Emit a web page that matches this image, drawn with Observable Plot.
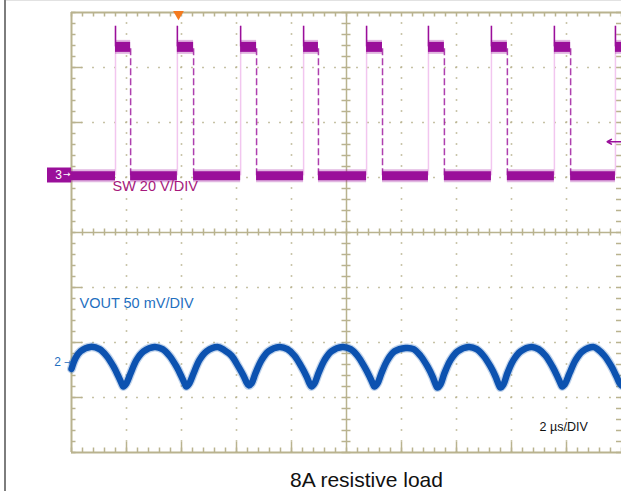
<!DOCTYPE html>
<html><head><meta charset="utf-8">
<script src="https://cdn.jsdelivr.net/npm/d3@7"></script>
<script src="https://cdn.jsdelivr.net/npm/@observablehq/plot@0.6"></script>
<style>
html,body{margin:0;padding:0;background:#fff;}
#wrap{position:relative;width:621px;height:491px;overflow:hidden;}
#wrap svg{position:absolute;left:0;top:0;}
#lb{position:absolute;left:4px;top:0;width:2px;height:491px;background:#7d7d7d;}
#tb{position:absolute;left:5px;top:0;width:616px;height:1px;background:#e2e2e2;}
</style></head><body><div id="wrap"></div>
<script>
// ---- data ----
// time axis: 2 µs/div, 10 divisions
const timePerDiv = 2;
const swVoltsPerDiv = 20;
const voutMilliVoltsPerDiv = 50;
const swOffsetDiv = 1;        // channel 3 ground marker
const voutOffsetDiv = -2.36;  // channel 2 marker

// SW node (V): rising / falling edge times (µs)
const swRise = [1.6, 3.85, 6.15, 8.44, 10.73, 12.98, 15.27, 17.56, 19.78];
const swFall = [2.15, 4.44, 6.73, 8.98, 11.31, 13.56, 15.85, 18.15];
const swLow = 0.6;
const swHigh = 47.5;
const swSpike = 55;
const trigTime = 3.89;
const trigLevel = 13;

// VOUT ripple (mV relative to marker)
const voutT = [0,0.15,0.33,0.69,
1.02,1.27,1.53,1.71,1.82,1.89,2.0,2.15,2.36,2.62,3.02,
3.31,3.56,3.82,4.0,4.11,4.18,4.29,4.44,4.65,4.91,5.31,
5.56,5.82,6.07,6.25,6.36,6.44,6.55,6.69,6.91,7.16,7.56,
7.85,8.11,8.36,8.55,8.65,8.73,8.84,8.98,9.2,9.45,9.85,
10.15,10.4,10.65,10.84,10.95,11.02,11.13,11.27,11.49,11.75,12.15,
12.44,12.69,12.95,13.13,13.24,13.31,13.42,13.56,13.78,14.04,14.44,
14.73,14.98,15.24,15.42,15.53,15.6,15.71,15.85,16.07,16.33,16.73,
16.98,17.24,17.49,17.67,17.78,17.85,17.96,18.11,18.33,18.58,18.98,
19.13,19.38,19.64,19.82,19.93,20];
const voutMV = [-6,4,10,14,
12,6,-4,-13,-19,-22,-19,-10,2,10,14,
12,6,-4,-13,-19,-22,-19,-10,2,10,14,
11,6,-4,-12,-18,-21,-19,-10,2,10,14,
12,6,-4,-13,-19,-22,-19,-10,2,10,14,
12,6,-4,-13,-19,-22,-19,-10,2,10,13,
12,6,-4,-13,-20,-23,-20,-10,2,10,14,
12,6,-4,-13,-20,-23,-20,-10,2,10,14,
12,6,-4,-13,-19,-22,-19,-10,2,10,14,
12,6,-4,-13,-19,-21];

// grid tick positions
const xMinor = d3.range(0, 20.0001, 0.4);
const yMinor = d3.range(-4, 4.0001, 0.2);
const xMajor = [2, 4, 6, 8, 12, 14, 16, 18];
const yMajor = [-3, -2, -1, 1, 2, 3];

const captionText = "8A resistive load";

// ---- build ----
const GRID = "#b9b38f";
const SW = "#9a0f9a";
const SWTXT = "#a6187c";
const VO = "#0c52b0";
const VOTXT = "#1f6fc0";

const swY = v => swOffsetDiv + v / swVoltsPerDiv;
const voY = mv => voutOffsetDiv + mv / voutMilliVoltsPerDiv;

const swLowSegs = [], swHighSegs = [];
let prev = 0;
swRise.forEach((r, i) => {
  swLowSegs.push({x1: prev, x2: r});
  const f = i < swFall.length ? swFall[i] : 20;
  swHighSegs.push({x1: r, x2: f});
  prev = f;
});
const vout = voutT.map((t, i) => ({t, y: voY(voutMV[i])}));

const sw = 1.5;
const chart = Plot.plot({
  width: 621, height: 491,
  marginLeft: 71, marginRight: 0, marginTop: 12, marginBottom: 39,
  x: {domain: [0, 10 * timePerDiv], axis: null},
  y: {domain: [-4, 4], axis: null},
  style: {fontFamily: "Liberation Sans, Arial, sans-serif", background: "transparent", overflow: "visible"},
  marks: [
    // dotted graticule
    Plot.ruleX(xMajor, {stroke: GRID, strokeWidth: 1.6, strokeDasharray: "1.6,9.4", strokeDashoffset: 0.8}),
    Plot.ruleY(yMajor, {stroke: GRID, strokeWidth: 1.6, strokeDasharray: "1.6,9.4", strokeDashoffset: 0.8}),
    // center cross
    Plot.ruleX([10], {stroke: GRID, strokeWidth: sw}),
    Plot.ruleY([0], {stroke: GRID, strokeWidth: sw}),
    Plot.ruleX(xMinor, {x: d => d, y1: 0, y2: 0, insetTop: -3.5, insetBottom: -3.5, stroke: GRID, strokeWidth: sw}),
    Plot.ruleY(yMinor, {y: d => d, x1: 10, x2: 10, insetLeft: -4.5, insetRight: -4.5, stroke: GRID, strokeWidth: sw}),
    // border
    Plot.ruleX([0], {stroke: GRID, strokeWidth: 2}),
    Plot.ruleY([4], {stroke: GRID, strokeWidth: 2}),
    Plot.ruleY([-4], {stroke: GRID, strokeWidth: 2}),
    Plot.ruleX(xMinor, {x: d => d, y1: 4, y2: 4, insetBottom: -4.5, stroke: GRID, strokeWidth: sw}),
    Plot.ruleX(xMinor, {x: d => d, y1: -4, y2: -4, insetTop: -4.5, stroke: GRID, strokeWidth: sw}),
    Plot.ruleX(xMajor, {x: d => d, y1: -4, y2: -4, insetTop: -10, stroke: GRID, strokeWidth: sw}),
    Plot.ruleY(yMinor, {y: d => d, x1: 0, x2: 0, insetRight: -4.5, stroke: GRID, strokeWidth: sw}),
    Plot.ruleY(yMajor, {y: d => d, x1: 0, x2: 0, insetRight: -11, stroke: GRID, strokeWidth: sw}),
    Plot.ruleY(yMinor, {y: d => d, x1: 20, x2: 20, insetLeft: -5, stroke: GRID, strokeWidth: sw}),

    // SW trace
    Plot.ruleX(swRise, {x: d => d, y1: swY(swLow), y2: swY(swSpike), stroke: "#f2c6ef", strokeWidth: 1.5}),
    Plot.ruleX(swFall, {x: d => d, y1: swY(swLow), y2: swY(swHigh), stroke: SW, strokeWidth: 1.5, strokeDasharray: "7,3", strokeOpacity: 0.8}),
    Plot.ruleY(swLowSegs, {x1: "x1", x2: "x2", y: swY(swLow), stroke: SW, strokeWidth: 13, strokeOpacity: 0.3}),
    Plot.ruleY(swLowSegs, {x1: "x1", x2: "x2", y: swY(swLow), stroke: SW, strokeWidth: 9}),
    Plot.ruleY(swHighSegs, {x1: "x1", x2: "x2", y: swY(swHigh), stroke: SW, strokeWidth: 14, strokeOpacity: 0.3}),
    Plot.ruleY(swHighSegs, {x1: "x1", x2: "x2", y: swY(swHigh), stroke: SW, strokeWidth: 10}),
    Plot.ruleX(swRise, {x: d => d, y1: swY(swHigh), y2: swY(swSpike), stroke: SW, strokeWidth: 1.5}),

    // VOUT trace
    Plot.line(vout, {x: "t", y: "y", curve: "catmull-rom", stroke: VO, strokeWidth: 9, strokeOpacity: 0.25}),
    Plot.line(vout, {x: "t", y: "y", curve: "catmull-rom", stroke: VO, strokeWidth: 6.5}),

    // channel markers
    Plot.ruleY([swY(0)], {x1: 0, x2: 0, insetLeft: -24, stroke: SW, strokeWidth: 15, dy: -2.5}),
    Plot.text(["3"], {x: 0, y: swY(0), text: d => d, dx: -13, dy: -2.5, fill: "white", fontSize: 12, textAnchor: "middle"}),
    Plot.text(["→"], {x: 0, y: swY(0), text: d => d, dx: -1, dy: -3, fill: "white", fontSize: 9, textAnchor: "end", fontFamily: "DejaVu Sans"}),
    Plot.text(["2"], {x: 0, y: voY(0), text: d => d, dx: -14, fill: VOTXT, fontSize: 12, textAnchor: "middle"}),
    Plot.text(["→"], {x: 0, y: voY(0), text: d => d, dx: 0, dy: -0.5, fill: VOTXT, fontSize: 9, textAnchor: "end", fontFamily: "DejaVu Sans"}),
    Plot.arrow([trigLevel], {x1: 20, x2: 19.48, y1: d => swY(d), y2: d => swY(d), stroke: SW, strokeWidth: 1.6, headLength: 6}),
    Plot.dot([trigTime], {x: d => d, y: 4, symbol: "triangle", r: 4, rotate: 180, fill: "#f47a1f", stroke: null, dy: 1.5}),

    // labels
    Plot.text([`SW ${swVoltsPerDiv} V/DIV`], {x: 1.49, y: 0.836, text: d => d, textAnchor: "start", lineAnchor: "middle", fill: SWTXT, fontSize: 14.5}),
    Plot.text([`VOUT ${voutMilliVoltsPerDiv} mV/DIV`], {x: 0.29, y: -1.282, text: d => d, textAnchor: "start", lineAnchor: "middle", fill: VOTXT, fontSize: 14.5}),
    Plot.text([`${timePerDiv} µs/DIV`], {x: 17.02, y: -3.536, text: d => d, textAnchor: "start", lineAnchor: "middle", fill: "#111", fontSize: 12.5}),
    Plot.text([captionText], {frameAnchor: "bottom", text: d => d, dx: 20, dy: 27.5, lineAnchor: "middle", fill: "#111", fontSize: 21})
  ]
});
const wrap = document.getElementById("wrap");
wrap.appendChild(chart);
const tb = document.createElement("div"); tb.id = "tb"; wrap.appendChild(tb);
const lb = document.createElement("div"); lb.id = "lb"; wrap.appendChild(lb);
</script>
</body></html>
